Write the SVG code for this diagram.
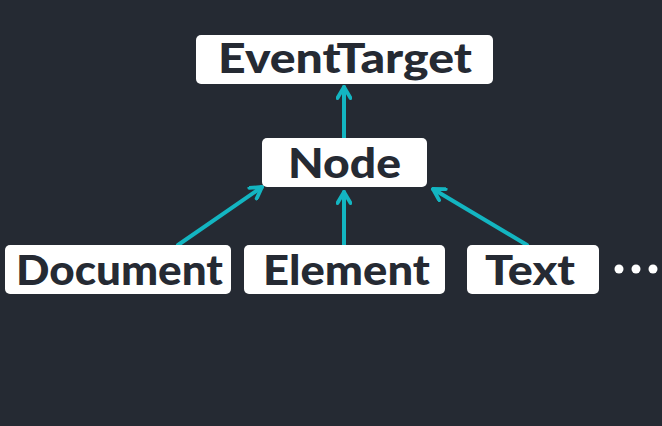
<svg xmlns="http://www.w3.org/2000/svg" width="662" height="426" viewBox="0 0 662 426">
<defs>
<style>
.box{fill:#ffffff}
.lbl{font-family:Lato,"Noto Sans","DejaVu Sans",sans-serif;font-weight:900;font-size:41px;fill:#252a33}
.con{stroke:#13b5c1;stroke-width:4;fill:none;stroke-linecap:round}
</style>
<marker id="ah" viewBox="0 0 16 16" refX="14" refY="8" markerWidth="16" markerHeight="16" markerUnits="userSpaceOnUse" orient="auto">
<path d="M3,1.5 L14,8 L3,14.5" fill="none" stroke="#13b5c1" stroke-width="3.8" stroke-linecap="round" stroke-linejoin="round"/>
</marker>
</defs>
<rect width="662" height="426" fill="#252a33"/>
<g id="connectors">
<line class="con" x1="344" y1="138" x2="344" y2="87" marker-end="url(#ah)"/>
<line class="con" x1="178" y1="245" x2="262" y2="187" marker-end="url(#ah)"/>
<line class="con" x1="344" y1="245" x2="344" y2="192" marker-end="url(#ah)"/>
<line class="con" x1="527" y1="245" x2="433" y2="189" marker-end="url(#ah)"/>
</g>
<g id="EventTarget">
<rect class="box" x="196" y="35" width="297" height="49" rx="5"/>
<text class="lbl" x="218" y="73" textLength="254" lengthAdjust="spacingAndGlyphs">EventTarget</text>
</g>
<g id="Node">
<rect class="box" x="262" y="138" width="165" height="49" rx="5"/>
<text class="lbl" x="288" y="178" textLength="113" lengthAdjust="spacingAndGlyphs">Node</text>
</g>
<g id="Document">
<rect class="box" x="5" y="245" width="226" height="49" rx="5"/>
<text class="lbl" x="16" y="285" textLength="207" lengthAdjust="spacingAndGlyphs">Document</text>
</g>
<g id="Element">
<rect class="box" x="244" y="245" width="201" height="49" rx="5"/>
<text class="lbl" x="263" y="285" textLength="167" lengthAdjust="spacingAndGlyphs">Element</text>
</g>
<g id="Text">
<rect class="box" x="467" y="245" width="132" height="49" rx="5"/>
<text class="lbl" x="485" y="285" textLength="90" lengthAdjust="spacingAndGlyphs">Text</text>
</g>
<g id="more" fill="#ffffff">
<circle cx="619" cy="269" r="4.5"/>
<circle cx="636" cy="269" r="4.5"/>
<circle cx="653" cy="269" r="4.5"/>
</g>
</svg>
